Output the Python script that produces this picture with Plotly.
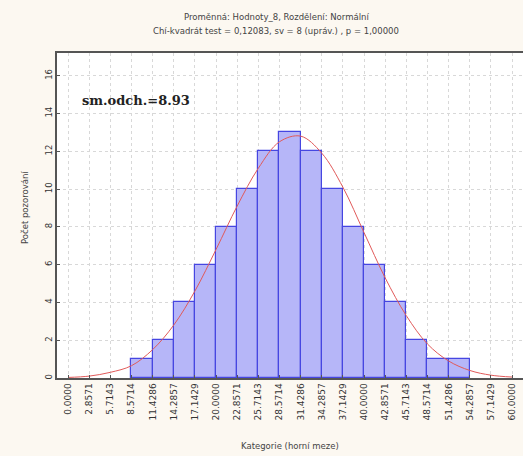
import plotly.graph_objects as go

# ---- data ----
tick_values = [0.0, 2.8571, 5.7143, 8.5714, 11.4286, 14.2857, 17.1429, 20.0, 22.8571,
               25.7143, 28.5714, 31.4286, 34.2857, 37.1429, 40.0, 42.8571, 45.7143,
               48.5714, 51.4286, 54.2857, 57.1429, 60.0]
tick_labels = ["0.0000", "2.8571", "5.7143", "8.5714", "11.4286", "14.2857", "17.1429",
               "20.0000", "22.8571", "25.7143", "28.5714", "31.4286", "34.2857", "37.1429",
               "40.0000", "42.8571", "45.7143", "48.5714", "51.4286", "54.2857", "57.1429",
               "60.0000"]
bin_lower = [8.5714, 11.4286, 14.2857, 17.1429, 20.0, 22.8571, 25.7143, 28.5714,
             31.4286, 34.2857, 37.1429, 40.0, 42.8571, 45.7143, 48.5714, 51.4286]
bin_width = 2.8571
counts = [1, 2, 4, 6, 8, 10, 12, 13, 12, 10, 8, 6, 4, 2, 1, 1]
curve_x = tick_values
curve_y = [0.03, 0.1, 0.3, 0.65, 1.5, 2.8, 4.6, 6.8, 9.1, 11.1, 12.5, 12.8, 11.9, 10.1,
           7.7, 5.3, 3.3, 1.8, 0.9, 0.4, 0.15, 0.05]
y_ticks = [0, 2, 4, 6, 8, 10, 12, 14, 16]

title1 = "Proměnná: Hodnoty_8, Rozdělení: Normální"
title2 = "Chí-kvadrát test = 0,12083, sv = 8 (upráv.) , p = 1,00000"
x_title = "Kategorie (horní meze)"
y_title = "Počet pozorování"
note = "sm.odch.=8.93"

bar_x = [b + bin_width / 2 for b in bin_lower]

W, H = 532, 456          # slightly wider than the window so the right frame is cut off
l, r, t, b = 57, 0, 53, 78
pw, ph = W - l - r, H - t - b
px_per_unit = 7.4
x_min = -1.49
x_max = x_min + pw / px_per_unit

SANS = "DejaVu Sans, Liberation Sans, sans-serif"


def px2paper(px, py):
    return (px - l) / pw, (H - b - py) / ph


fig = go.Figure()
fig.add_trace(go.Bar(
    x=bar_x, y=counts, width=bin_width,
    marker=dict(color="rgb(182,182,248)", line=dict(color="rgb(70,70,225)", width=1.2)),
    showlegend=False, hoverinfo="skip",
))
fig.add_trace(go.Scatter(
    x=curve_x, y=curve_y, mode="lines", line=dict(color="rgb(225,90,90)", width=1, shape="spline"),
    showlegend=False, hoverinfo="skip",
))

ann = []
for text, (px, py), kw in [
    (title1, (276, 17), dict(font=dict(family=SANS, size=8.5, color="#444"))),
    (title2, (276, 31), dict(font=dict(family=SANS, size=8.5, color="#444"))),
    ("<b>" + note + "</b>", (80, 100), dict(xanchor="left",
                                             font=dict(family="DejaVu Serif, serif", size=13, color="#222"))),
    (x_title, (290, 446), dict(font=dict(family=SANS, size=8.5, color="#444"))),
    (y_title, (25, 208), dict(textangle=-90, font=dict(family=SANS, size=8.5, color="#444"))),
]:
    x, y = px2paper(px, py)
    d = dict(text=text, x=x, y=y, xref="paper", yref="paper", showarrow=False,
             xanchor="center", yanchor="middle")
    d.update(kw)
    ann.append(d)

fig.update_layout(
    width=W, height=H,
    margin=dict(l=l, r=r, t=t, b=b, autoexpand=False),
    paper_bgcolor="#fcf8f1", plot_bgcolor="white",
    font=dict(family=SANS, size=8, color="#333"),
    bargap=0,
    annotations=ann,
)

fig.update_xaxes(
    range=[x_min, x_max], tickmode="array", tickvals=tick_values, ticktext=tick_labels,
    tickangle=-90, showgrid=True, gridcolor="#d8d8d8", griddash="dot", gridwidth=1,
    showline=True, linecolor="#555", linewidth=1.5, mirror=True, ticks="inside", ticklen=3,
    tickcolor="#555", zeroline=False, tickfont=dict(family=SANS, size=9, color="#333"),
    automargin=False,
)
fig.update_yaxes(
    range=[0, 17.2], tickmode="array", tickvals=y_ticks, tickangle=-90,
    showgrid=True, gridcolor="#d8d8d8", griddash="dot", gridwidth=1,
    showline=True, linecolor="#555", linewidth=1.5, mirror=True, ticks="inside", ticklen=3,
    tickcolor="#555", zeroline=False, tickfont=dict(family=SANS, size=8.5, color="#333"),
    automargin=False,
)

fig.write_html("out.html", config={"displayModeBar": False},
               post_script="document.body.style.margin='0';document.body.style.overflow='hidden';")
